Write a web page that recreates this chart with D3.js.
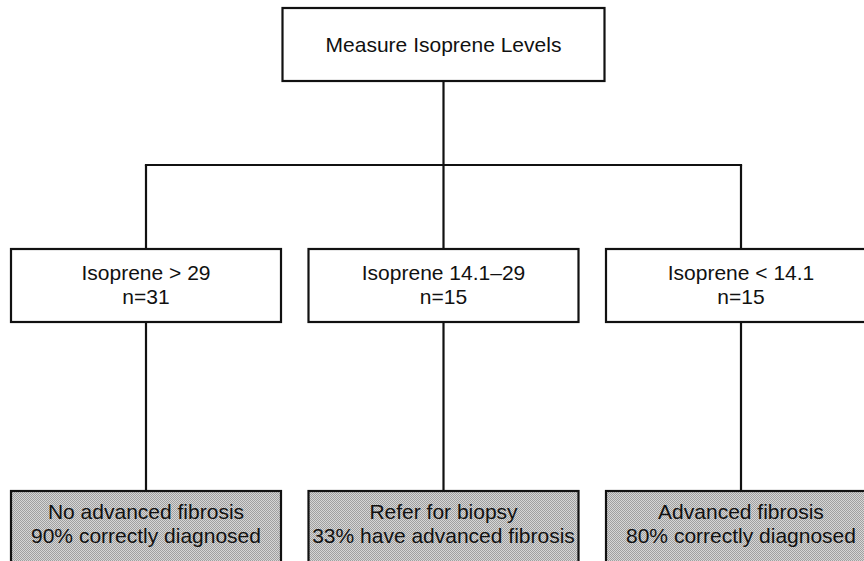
<!DOCTYPE html>
<html>
<head>
<meta charset="utf-8">
<script src="https://cdn.jsdelivr.net/npm/d3@7"></script>
<style>
  html, body { margin: 0; padding: 0; background: #fff; }
  svg { display: block; }
</style>
</head>
<body>
<div id="chart"></div>
<script>
// ---- Data ----
const rootLabel = ["Measure Isoprene Levels"];
const categories = ["high", "mid", "low"];
const groupLabels = [
  ["Isoprene > 29", "n=31"],
  ["Isoprene 14.1\u201329", "n=15"],
  ["Isoprene < 14.1", "n=15"]
];
const outcomeLabels = [
  ["No advanced fibrosis", "90% correctly diagnosed"],
  ["Refer for biopsy", "33% have advanced fibrosis"],
  ["Advanced fibrosis", "80% correctly diagnosed"]
];
const levels = ["root", "group", "outcome"];

// ---- Layout ----
const W = 864, H = 561;
const svg = d3.select("#chart").append("svg").attr("width", W).attr("height", H);

const defs = svg.append("defs");
const pat = defs.append("pattern")
  .attr("id", "dots").attr("width", 2).attr("height", 2)
  .attr("patternUnits", "userSpaceOnUse");
pat.append("rect").attr("width", 2).attr("height", 2).attr("fill", "#d6d6d6");
pat.append("rect").attr("width", 1).attr("height", 1).attr("fill", "#a0a0a0");
pat.append("rect").attr("x", 1).attr("y", 1).attr("width", 1).attr("height", 1).attr("fill", "#a0a0a0");

const x = d3.scalePoint().domain(categories).range([146, 741]);
const xCenter = (x.range()[0] + x.range()[1]) / 2;
const yTop = d3.scaleOrdinal().domain(levels).range([8, 249, 491]);
const boxH = d3.scaleOrdinal().domain(levels).range([73, 73, 90]);
const rootW = 322, childW = 270;
const junctionY = 165;

const font = "'Liberation Sans', Arial, Helvetica, sans-serif";
const fontSize = 21;
const lineGap = 24;
const stroke = "#111";
const sw = 2.2;

// connectors
const lines = svg.append("g").attr("stroke", stroke).attr("stroke-width", sw).attr("fill", "none");
lines.append("line")
  .attr("x1", xCenter).attr("x2", xCenter)
  .attr("y1", yTop("root") + boxH("root")).attr("y2", junctionY);
lines.append("line")
  .attr("x1", x(categories[0]) - sw/2).attr("x2", x(categories[categories.length-1]) + sw/2)
  .attr("y1", junctionY).attr("y2", junctionY);
categories.forEach(c => {
  lines.append("line").attr("x1", x(c)).attr("x2", x(c))
    .attr("y1", junctionY).attr("y2", yTop("group"));
  lines.append("line").attr("x1", x(c)).attr("x2", x(c))
    .attr("y1", yTop("group") + boxH("group")).attr("y2", yTop("outcome"));
});

function drawBox(cx, level, w, labels, fill, textY) {
  const g = svg.append("g");
  g.append("rect")
    .attr("x", cx - w / 2).attr("y", yTop(level))
    .attr("width", w).attr("height", boxH(level))
    .attr("fill", fill).attr("stroke", stroke).attr("stroke-width", sw);
  labels.forEach((t, i) => {
    g.append("text")
      .attr("x", cx).attr("y", textY + i * lineGap)
      .attr("text-anchor", "middle")
      .attr("font-family", font).attr("font-size", fontSize)
      .attr("fill", "#111")
      .text(t);
  });
}

drawBox(xCenter, "root", rootW, rootLabel, "#fff", yTop("root") + 44);
categories.forEach((c, i) => {
  drawBox(x(c), "group", childW, groupLabels[i], "#fff", yTop("group") + 31);
  drawBox(x(c), "outcome", childW, outcomeLabels[i], "url(#dots)", yTop("outcome") + 28);
});
</script>
</body>
</html>
